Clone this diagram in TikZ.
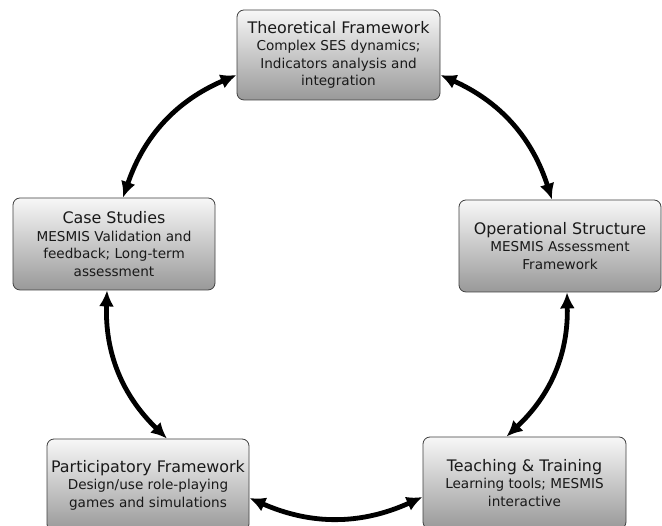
\documentclass[tikz,border=0pt]{standalone}
\usepackage{fontspec}
\setmainfont{DejaVu Sans}
\usetikzlibrary{arrows.meta,shadows}
\begin{document}
\begin{tikzpicture}[x=1pt,y=1pt,
  box/.style={draw=black!75, line width=0.8pt, rounded corners=7pt,
    top color=black!3, bottom color=black!40,
    minimum width=202pt, minimum height=92pt, inner sep=0pt,
    align=center, text=black!90, font=\fontsize{13.6}{17.5}\selectfont},
  link/.style={line width=4.8pt, {Latex[length=16pt,width=15pt]}-{Latex[length=16pt,width=15pt]}, bend right=24}
]
\clip (0,0) rectangle (662,526);
\fill[white] (0,0) rectangle (662,526);
\node[box, minimum width=203pt, minimum height=90pt] (theo) at (338.5,471)
  {{\fontsize{15.9}{19}\selectfont Theoretical Framework}\\Complex SES dynamics;\\Indicators analysis and\\integration};
\node[box] (case) at (114,282)
  {{\fontsize{15.9}{19}\selectfont Case Studies}\\MESMIS Validation and\\feedback; Long-term\\assessment};
\node[box] (oper) at (560,280)
  {{\fontsize{15.9}{19}\selectfont Operational Structure}\\MESMIS Assessment\\Framework};
\node[box] (part) at (148,41)
  {{\fontsize{15.9}{19}\selectfont Participatory Framework}\\Design/use role-playing\\games and simulations};
\node[box, minimum width=203pt] (teach) at (524.5,43)
  {{\fontsize{15.9}{19}\selectfont Teaching \& Training}\\Learning tools; MESMIS\\interactive};
\draw[link] ([yshift=-20pt]theo.west) to ([xshift=9pt]case.north);
\draw[link] ([xshift=-7pt]case.south) to ([xshift=19pt]part.north);
\draw[link] ([yshift=-13pt]part.east) to ([yshift=-14pt]teach.west);
\draw[link] ([xshift=-18pt]teach.north) to ([xshift=7pt]oper.south);
\draw[link] ([xshift=-8pt]oper.north) to ([yshift=-20pt]theo.east);
\end{tikzpicture}
\end{document}
